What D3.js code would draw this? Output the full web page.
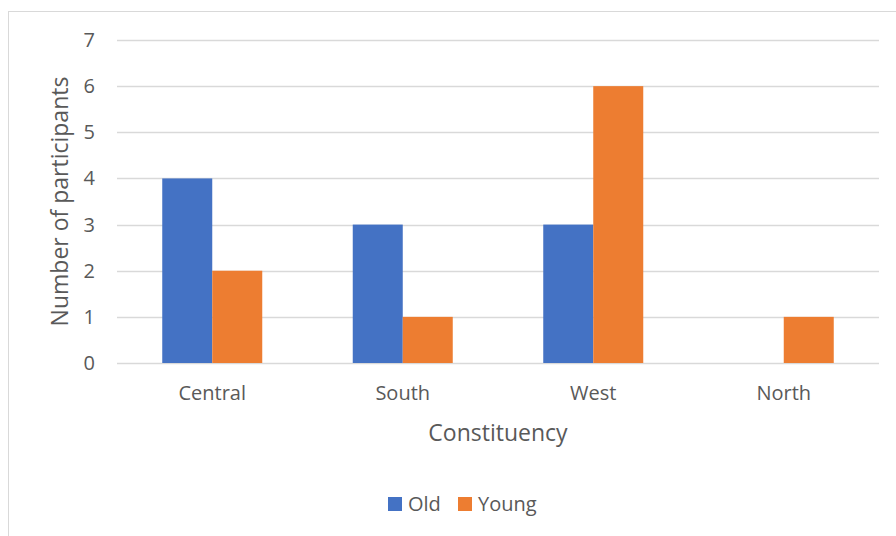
<!DOCTYPE html>
<html>
<head>
<meta charset="utf-8">
<script src="https://cdn.jsdelivr.net/npm/d3@7"></script>
<style>
  body { margin: 0; background: #fff; }
  svg { display: block; }
  text { font-family: "Open Sans", sans-serif; fill: #595959; }
</style>
</head>
<body>
<svg id="chart" width="896" height="536"></svg>
<script>
var categories = ["Central", "South", "West", "North"];
var seriesNames = ["Old", "Young"];
var oldValues = [4, 3, 3, 0];
var youngValues = [2, 1, 6, 1];
var yTicks = [0, 1, 2, 3, 4, 5, 6, 7];
var colors = ["#4472c4", "#ed7d31"];

var svg = d3.select("#chart");
var plotLeft = 117, plotRight = 879, plotTop = 40, plotBottom = 363;

// chart frame
svg.append("rect")
    .attr("x", 8.5).attr("y", 11.5)
    .attr("width", 900).attr("height", 540)
    .attr("fill", "none")
    .attr("stroke", "#d9d9d9");

var x = d3.scaleBand().domain(categories).range([plotLeft, plotRight]);
var y = d3.scaleLinear().domain([0, 7]).range([plotBottom, plotTop]);
var inner = d3.scaleBand().domain(seriesNames).range([0, 100]);

// gridlines
svg.selectAll("line.grid")
    .data(yTicks)
    .enter().append("line")
    .attr("class", "grid")
    .attr("x1", plotLeft).attr("x2", plotRight)
    .attr("y1", function (d) { return Math.round(y(d)) + 0.5; })
    .attr("y2", function (d) { return Math.round(y(d)) + 0.5; })
    .attr("stroke", "#d9d9d9")
    .attr("stroke-width", 1.3);

// y tick labels
svg.selectAll("text.ytick")
    .data(yTicks)
    .enter().append("text")
    .attr("class", "ytick")
    .attr("x", 95)
    .attr("y", function (d) { return y(d); })
    .attr("dy", "0.35em")
    .attr("text-anchor", "end")
    .style("font-size", "20px")
    .text(function (d) { return d; });

// bars
var data = categories.map(function (c, i) {
    return { cat: c, values: [
        { name: "Old", value: oldValues[i] },
        { name: "Young", value: youngValues[i] }
    ] };
});

var groups = svg.selectAll("g.cat")
    .data(data)
    .enter().append("g")
    .attr("class", "cat")
    .attr("transform", function (d) {
        return "translate(" + (x(d.cat) + x.bandwidth() / 2 - 50) + ",0)";
    });

groups.selectAll("rect")
    .data(function (d) { return d.values; })
    .enter().append("rect")
    .attr("x", function (d) { return inner(d.name); })
    .attr("width", inner.bandwidth())
    .attr("y", function (d) { return y(d.value); })
    .attr("height", function (d) { return y(0) - y(d.value); })
    .attr("fill", function (d, i) { return colors[i]; });

// category labels
svg.selectAll("text.xtick")
    .data(categories)
    .enter().append("text")
    .attr("class", "xtick")
    .attr("x", function (d) { return x(d) + x.bandwidth() / 2; })
    .attr("y", 400)
    .attr("text-anchor", "middle")
    .style("font-size", "20px")
    .text(function (d) { return d; });

// axis titles
svg.append("text")
    .attr("x", 498).attr("y", 441)
    .attr("text-anchor", "middle")
    .style("font-size", "23px")
    .text("Constituency");

svg.append("text")
    .attr("transform", "translate(68," + (plotTop + plotBottom) / 2 + ") rotate(-90)")
    .attr("text-anchor", "middle")
    .style("font-size", "23px")
    .text("Number of participants");

// legend
var legendX = [388, 458];
var legend = svg.selectAll("g.legend")
    .data(seriesNames)
    .enter().append("g")
    .attr("class", "legend")
    .attr("transform", function (d, i) { return "translate(" + legendX[i] + ",497)"; });

legend.append("rect")
    .attr("width", 14).attr("height", 14)
    .attr("fill", function (d, i) { return colors[i]; });

legend.append("text")
    .attr("x", 20).attr("y", 7)
    .attr("dy", "0.35em")
    .style("font-size", "20px")
    .text(function (d) { return d; });
</script>
</body>
</html>
